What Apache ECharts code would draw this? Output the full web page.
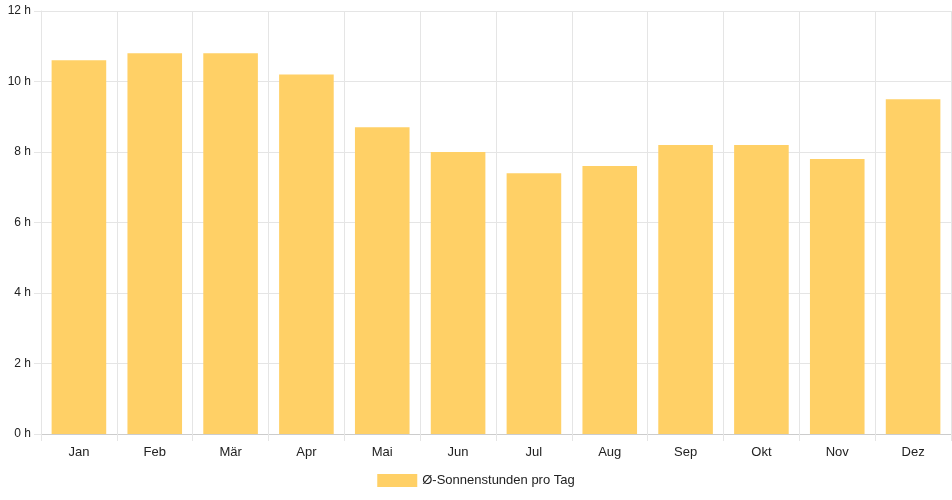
<!DOCTYPE html>
<html>
<head>
<meta charset="utf-8">
<script src="https://cdn.jsdelivr.net/npm/echarts@6/dist/echarts.min.js"></script>
<style>html,body{margin:0;padding:0;background:#fff}#main{width:952px;height:500px}</style>
</head>
<body>
<div id="main"></div>
<script>
var months = ['Jan', 'Feb', 'Mär', 'Apr', 'Mai', 'Jun', 'Jul', 'Aug', 'Sep', 'Okt', 'Nov', 'Dez'];
var sunHours = [10.6, 10.8, 10.8, 10.2, 8.7, 8.0, 7.4, 7.6, 8.2, 8.2, 7.8, 9.5];
var seriesName = 'Ø-Sonnenstunden pro Tag';

var myChart = echarts.init(document.querySelector('#main'));

var option = {
    animation: false,
    textStyle: { fontFamily: 'Liberation Sans, Arial, sans-serif' },
    grid: { left: 41, right: 1, top: 11, bottom: 66 },
    legend: {
        bottom: 8,
        itemWidth: 40,
        itemHeight: 13,
        icon: 'rect',
        textStyle: { fontSize: 13, color: '#222' },
        data: [seriesName],
    },
    xAxis: {
        type: 'category',
        data: months,
        axisLine: { lineStyle: { color: '#ccc' } },
        axisTick: { show: true, length: 7, lineStyle: { color: '#e5e5e5' } },
        axisLabel: { color: '#222', fontSize: 13, margin: 12 },
        splitLine: { show: true, lineStyle: { color: '#e5e5e5' } },
    },
    yAxis: {
        type: 'value',
        min: 0,
        max: 12,
        interval: 2,
        axisLine: { show: true, lineStyle: { color: '#e5e5e5' } },
        axisTick: { show: true, length: 7, lineStyle: { color: '#e5e5e5' } },
        axisLabel: { color: '#222', fontSize: 12, formatter: '{value} h', margin: 10 },
        splitLine: { lineStyle: { color: '#e5e5e5' } },
    },
    series: [
        {
            name: seriesName,
            type: 'bar',
            data: sunHours,
            barCategoryGap: '28%',
            itemStyle: { color: 'rgb(255, 208, 102)' },
        },
    ],
};

myChart.setOption(option);
</script>
</body>
</html>
